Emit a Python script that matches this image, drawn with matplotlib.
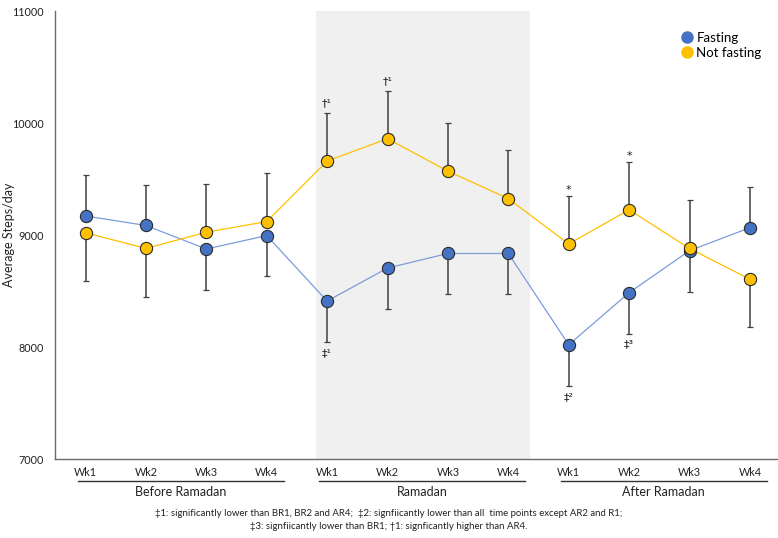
import matplotlib
matplotlib.use("Agg")
import matplotlib.pyplot as plt
from matplotlib.lines import Line2D
import numpy as np

plt.rcParams['font.family'] = ['Lato', 'DejaVu Sans']

# data
weeks = ["Wk1", "Wk2", "Wk3", "Wk4"] * 3
groups = ["Before Ramadan", "Ramadan", "After Ramadan"]
fasting = [9170, 9085, 8875, 8995, 8410, 8705, 8835, 8835, 8020, 8485, 8860, 9065]
not_fasting = [9020, 8880, 9025, 9120, 9660, 9860, 9570, 9325, 8920, 9225, 8880, 8605]
fasting_err = [365] * 12
not_fasting_err = [430] * 12
# which side the single error bar is drawn on (1 = up, -1 = down)
fasting_side = [1, 1, -1, -1, -1, -1, -1, -1, -1, -1, -1, 1]
not_fasting_side = [-1, -1, 1, 1, 1, 1, 1, 1, 1, 1, 1, -1]

# significance marks: (series, index, text)
marks = [("nf", 4, "†¹"), ("nf", 5, "†¹"), ("f", 4, "‡¹"),
         ("nf", 8, "*"), ("nf", 9, "*"), ("f", 8, "‡²"), ("f", 9, "‡³")]

footnote = ("‡1: significantly lower than BR1, BR2 and AR4;  ‡2: signfiicantly lower than all  time points except AR2 and R1;\n"
            "‡3: signfiicantly lower than BR1; †1: signficantly higher than AR4.")

blue = "#4472C4"
blue_line = "#7C9CDA"
gold = "#FFC000"

fig = plt.figure(figsize=(7.78, 5.38), dpi=100)
ax = fig.add_axes([55/778, 79/538, 723/778, 448/538])

x = np.arange(len(weeks))
f = np.array(fasting)
nf = np.array(not_fasting)
fe = np.array(fasting_err)
nfe = np.array(not_fasting_err)
fs = np.array(fasting_side)
nfs = np.array(not_fasting_side)

ax.axvspan(3.82, 7.36, color="#F0F0F0", zorder=0, lw=0)

def bars(vals, err, side):
    low = np.where(side < 0, err, 0)
    up = np.where(side > 0, err, 0)
    ax.errorbar(x, vals, yerr=[low, up], fmt="none", ecolor="#404040",
                elinewidth=1.1, capsize=2.3, capthick=0.9, zorder=2)

bars(f, fe, fs)
bars(nf, nfe, nfs)

ax.plot(x, f, color=blue_line, lw=0.9, zorder=3)
ax.plot(x, nf, color=gold, lw=0.9, zorder=3)
ax.plot(x, f, "o", color=blue, ms=8.8, mec="#2b2b2b", mew=0.8, zorder=4)
ax.plot(x, nf, "o", color=gold, ms=8.8, mec="#2b2b2b", mew=0.8, zorder=5)

for series, i, txt in marks:
    if series == "f":
        v, e, s = f[i], fe[i], fs[i]
    else:
        v, e, s = nf[i], nfe[i], nfs[i]
    y = v + s * e
    if s > 0:
        off = 4 if txt == "*" else 7
    else:
        off = -8
    ax.annotate(txt, (x[i], y), xytext=(0, off), textcoords="offset points",
                ha="center", va="center", fontsize=8, color="#222222",
                family="DejaVu Sans")

ax.set_xlim(-0.505, 11.465)
ax.set_ylim(7000, 11000)
ax.set_yticks([7000, 8000, 9000, 10000, 11000])
ax.tick_params(axis="y", length=0, labelsize=7.8, pad=8, colors="#222222")
ax.set_xticks(x)
ax.set_xticklabels(weeks)
ax.tick_params(axis="x", length=0, labelsize=7.8, pad=6, colors="#222222")
for s in ["top", "right"]:
    ax.spines[s].set_visible(False)
for s in ["left", "bottom"]:
    ax.spines[s].set_color("#6b6b6b")
    ax.spines[s].set_linewidth(1.0)
fig.text(9/778, 1 - 235/538, "Average Steps/day", rotation=90, ha="center", va="center",
         fontsize=9, color="#222222")

# group underlines and names
trans = ax.get_xaxis_transform()
for g, name in enumerate(groups):
    a, b = 4 * g - 0.13, 4 * g + 3 + 0.28
    ax.plot([a, b], [-0.05, -0.05], color="#333333", lw=1.0, transform=trans, clip_on=False)
    ax.text((a + b) / 2, -0.073, name, transform=trans, ha="center", va="center",
            fontsize=9, color="#222222")

handles = [Line2D([], [], ls="none", marker="o", ms=8, color=blue, mec=blue),
           Line2D([], [], ls="none", marker="o", ms=8, color=gold, mec=gold)]
ax.legend(handles, ["Fasting", "Not fasting"], loc="upper left",
          bbox_to_anchor=(674/778, 1 - 25/538), bbox_transform=fig.transFigure,
          frameon=False, fontsize=9.5, handletextpad=0.2, labelspacing=0.25, borderpad=0,
          handlelength=1.0)

fig.text(0.5, 1 - 520/538, footnote, ha="center", va="center", fontsize=6.9,
         color="#222222", linespacing=1.5)

fig.savefig("out.png", dpi=100)
